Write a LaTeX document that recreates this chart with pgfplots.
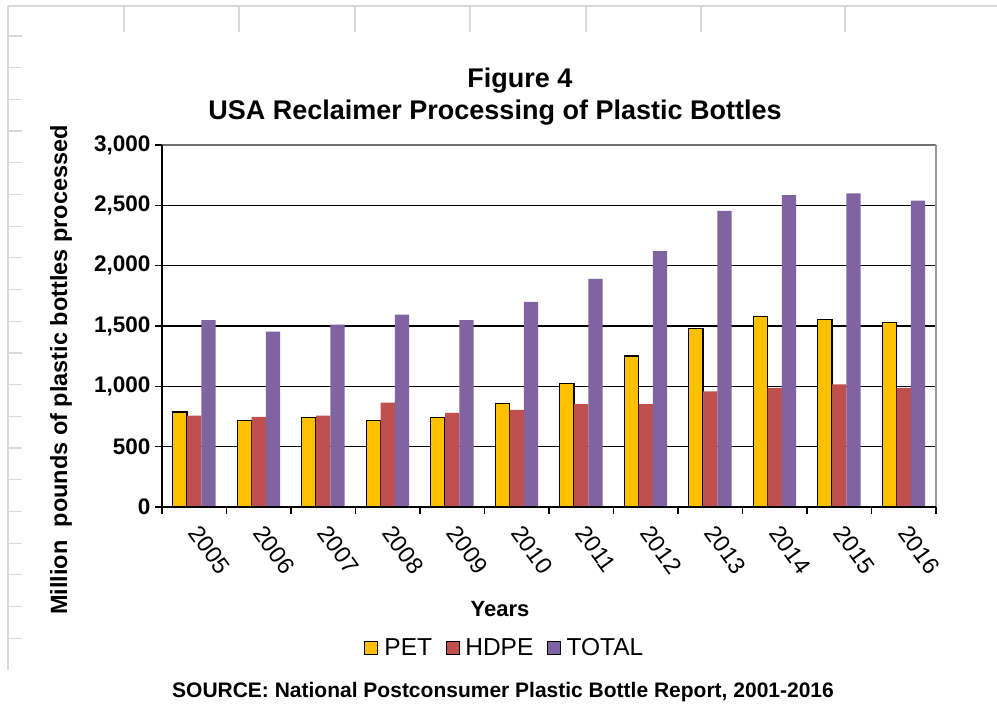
\documentclass[border=0pt]{standalone}
\usepackage{fontspec}
\setmainfont{Liberation Sans}
\usepackage{pgfplots}
\usepackage{pgfplotstable}
\pgfplotsset{compat=1.18}
\definecolor{petc}{HTML}{FFC000}
\definecolor{hdpec}{HTML}{C0504D}
\definecolor{totc}{HTML}{8064A2}
\definecolor{bggrid}{HTML}{D9D9D9}
\definecolor{framegray}{HTML}{707070}
\newcommand{\fs}[1]{\fontsize{#1bp}{#1bp}\selectfont}
\pgfplotstableread{
x pet hdpe total
0 788 757 1548
1 716 746 1454
2 741 757 1512
3 716 865 1595
4 741 780 1548
5 860 805 1700
6 1026 852 1891
7 1252 852 2121
8 1479 959 2455
9 1576 987 2585
10 1554 1017 2599
11 1529 987 2538
}\datatable
\begin{document}
\begin{tikzpicture}
\useasboundingbox (0,0) rectangle (997bp,705bp);
\fill[white] (0,0) rectangle (997bp,705bp);
% spreadsheet background lines
\draw[bggrid, line width=1.5bp] (8bp,699bp) -- (997bp,699bp);
\draw[bggrid, line width=1.5bp] (8bp,699bp) -- (8bp,35bp);
\foreach \xx in {124,239,355,470,586,701,845} \draw[bggrid,line width=1.5bp] (\xx bp,699bp) -- (\xx bp,673bp);
\foreach \k in {0,...,19} \draw[bggrid,line width=1.2bp] (8bp,{(669-31.7*\k)*1bp}) -- (22bp,{(669-31.7*\k)*1bp});
\begin{axis}[
  at={(162bp,198bp)}, anchor=south west,
  scale only axis, width=774bp, height=362bp,
  ybar=0pt, bar width=0.222,
  legend image code/.code={\draw[#1] (0bp,-6.5bp) rectangle (13bp,6.5bp); \path (17bp,0bp);},
  xmin=-0.5, xmax=11.5, ymin=0, ymax=3000,
  ytick={0,500,...,3000},
  xtick={-0.5,0.5,...,11.5},
  x tick label as interval,
  xticklabels={2005,2006,2007,2008,2009,2010,2011,2012,2013,2014,2015,2016},
  ymajorgrids, grid style={black, line width=1.5bp},
  axis line style={draw=none},
  tick align=outside, major tick length=7bp,
  tick style={black, line width=1.2bp},
  ytick pos=left, xtick pos=bottom,
  clip=false,
  yticklabel style={font=\bfseries\fs{22.5}, xshift=-1bp},
  xticklabel style={font=\fs{23.5}, xshift=7bp, yshift=-8bp, rotate=-54, anchor=north west, inner sep=1bp},
  /pgf/number format/.cd, 1000 sep={,}, assume math mode=true,
  /pgfplots/.cd,
  legend style={at={(axis description cs:0.4428,-0.3895)}, anchor=center, draw=none,
    font=\fs{24.5}, legend columns=3,
    /tikz/every even column/.append style={column sep=12bp}},
]
\addplot[fill=petc, draw=black, line width=1.3bp] table[x=x,y=pet]{\datatable};
\addplot[fill=hdpec, draw=none] table[x=x,y=hdpe]{\datatable};
\addplot[fill=totc, draw=none] table[x=x,y=total]{\datatable};
\legend{PET,HDPE,TOTAL}
\draw[framegray, line width=1.5bp] (rel axis cs:0,1) -- (rel axis cs:1,1);
\draw[black!40, line width=1.5bp] (rel axis cs:1,1) -- (rel axis cs:1,0);
\draw[black, line width=1.6bp] (rel axis cs:0,1) -- (rel axis cs:0,0) -- (rel axis cs:1,0);
\end{axis}
\node[font=\bfseries\fs{27}, anchor=base] at (520bp,617bp) {Figure 4};
\node[font=\bfseries\fs{27}, anchor=base] at (495bp,585bp) {USA Reclaimer Processing of Plastic Bottles};
\node[font=\bfseries\fs{22}, anchor=base] at (500bp,88bp) {Years};
\node[font=\bfseries\fs{21}, anchor=base] at (503bp,8bp) {SOURCE: National Postconsumer Plastic Bottle Report, 2001-2016};
\node[rotate=90, font=\bfseries\fs{23.5}, anchor=base] at (67bp,335bp) {Million\ \ pounds of plastic bottles processed};
\end{tikzpicture}
\end{document}
